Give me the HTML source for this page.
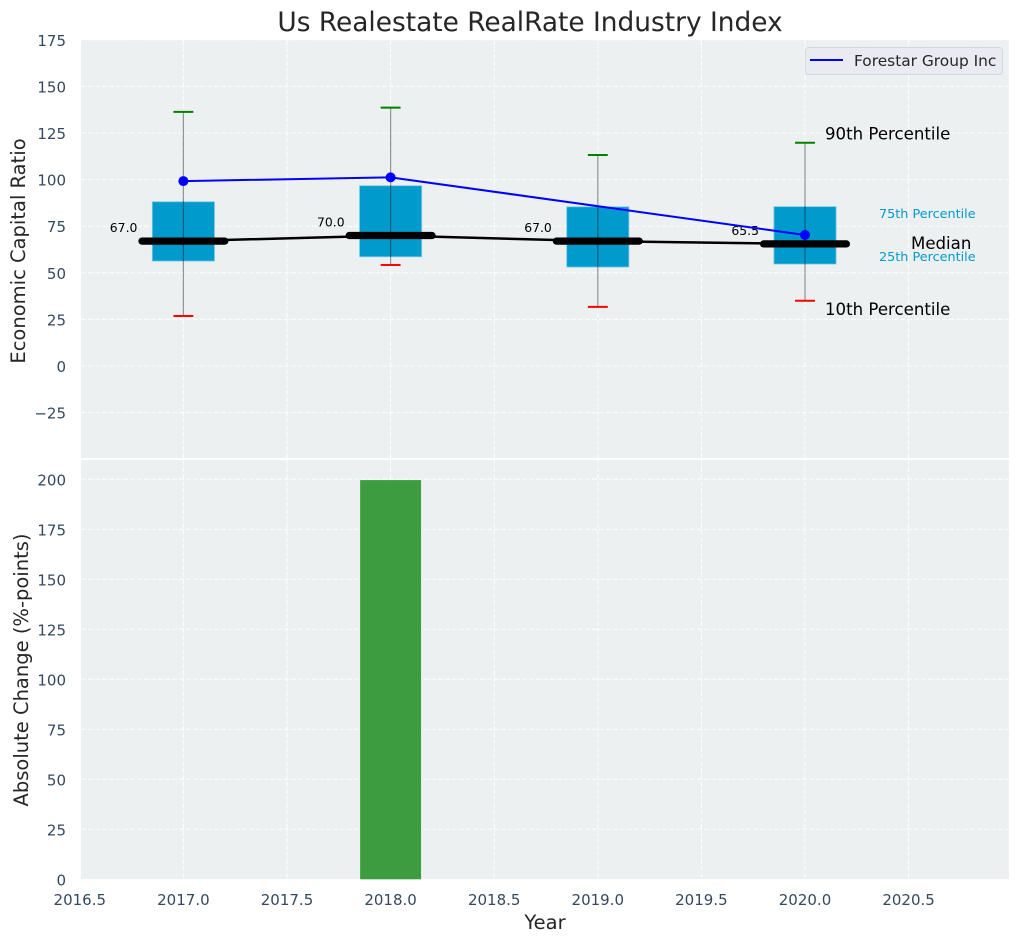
<!DOCTYPE html>
<html>
<head>
<meta charset="utf-8">
<style>
html,body{margin:0;padding:0;background:#fff;}
svg{display:block;font-family:"DejaVu Sans","Liberation Sans",sans-serif;}
</style>
</head>
<body>
<svg id="chart" width="1019" height="942" viewBox="0 0 1019 942" xmlns="http://www.w3.org/2000/svg">
<rect x="0" y="0" width="1019" height="942" fill="#ffffff"/>
<text x="530" y="31" font-size="26.4" fill="#262626" text-anchor="middle">Us Realestate RealRate Industry Index</text>
<text transform="translate(25,251) rotate(-90)" font-size="19.5" fill="#262626" text-anchor="middle">Economic Capital Ratio</text>
<text transform="translate(28,670) rotate(-90)" font-size="19.5" fill="#262626" text-anchor="middle">Absolute Change (%-points)</text>
<text x="545" y="929" font-size="19.5" fill="#262626" text-anchor="middle">Year</text>
<g id="plot"></g>
</svg>
<script>
var years = [2017, 2018, 2019, 2020];
var p90 = [136.3, 138.6, 113.2, 119.8];
var p75 = [88.1, 96.7, 85.4, 85.5];
var median = [67, 70, 67, 65.5];
var p25 = [56.3, 58.6, 53.1, 54.7];
var p10 = [26.8, 54.2, 31.7, 35];
var company = [99.2, 101.2, null, 70.3];
var changeYears = [2018];
var changeValues = [199.6];
var xTicks = [2016.5, 2017, 2017.5, 2018, 2018.5, 2019, 2019.5, 2020, 2020.5];
var topYTicks = [-25, 0, 25, 50, 75, 100, 125, 150, 175];
var bottomYTicks = [0, 25, 50, 75, 100, 125, 150, 175, 200];
var companyName = 'Forestar Group Inc';

var NS = 'http://www.w3.org/2000/svg';
var plot = document.getElementById('plot');
var LEFT = 81, RIGHT = 1009, TOP1 = 40, BOT1 = 458, TOP2 = 460, BOT2 = 879;
function x(v) { return 183.4 + (v - 2017) * 207.2; }
function yTop(v) { return 366 - v * 1.864; }
function yBot(v) { return 879.3 - v * 2; }
function make(tag, attrs, name, text) {
  var el = document.createElementNS(NS, tag);
  for (var k in attrs) { el.setAttribute(k, attrs[k]); }
  
  
  if (text !== undefined) { el.textContent = text; }
  plot.appendChild(el);
  return el;
}
function minus(v) { return String(v).replace('-', '\u2212'); }

make('rect', {x: LEFT, y: TOP1, width: RIGHT - LEFT, height: BOT1 - TOP1, fill: '#ecf0f1'}, 'top-panel-background');
make('rect', {x: LEFT, y: TOP2, width: RIGHT - LEFT, height: BOT2 - TOP2, fill: '#ecf0f1'}, 'bottom-panel-background');

var gridStyle = {stroke: '#ffffff', 'stroke-width': 1, 'stroke-dasharray': '5 2', opacity: 0.9};
function grid(x1, y1, x2, y2, name) {
  var a = {x1: x1, y1: y1, x2: x2, y2: y2};
  for (var k in gridStyle) { a[k] = gridStyle[k]; }
  make('line', a, name);
}
xTicks.forEach(function (t) {
  var px = x(t);
  if (px >= LEFT) {
    grid(px, TOP1, px, BOT1, 'top-x-gridline');
    grid(px, TOP2, px, BOT2, 'bottom-x-gridline');
  }
  make('text', {x: px, y: 905, 'font-size': 15, fill: '#34495e', 'text-anchor': 'middle'}, 'x-tick-label', t.toFixed(1));
});
topYTicks.forEach(function (t) {
  grid(LEFT, yTop(t), RIGHT, yTop(t), 'top-y-gridline');
  make('text', {x: 66, y: yTop(t) + 6, 'font-size': 15, fill: '#34495e', 'text-anchor': 'end'}, 'top-y-tick-label', minus(t));
});
bottomYTicks.forEach(function (t) {
  if (t > 0) { grid(LEFT, yBot(t), RIGHT, yBot(t), 'bottom-y-gridline'); }
  make('text', {x: 66, y: yBot(t) + 6, 'font-size': 15, fill: '#34495e', 'text-anchor': 'end'}, 'bottom-y-tick-label', String(t));
});

// bottom panel bars
changeYears.forEach(function (yr, i) {
  make('rect', {x: x(yr - 0.147), y: yBot(changeValues[i]), width: x(yr + 0.147) - x(yr - 0.147), height: yBot(0) - yBot(changeValues[i]), fill: '#2e9632', opacity: 0.93}, 'change-bar-' + yr);
});

// boxes, whiskers, caps
years.forEach(function (yr, i) {
  make('rect', {x: x(yr - 0.15), y: yTop(p75[i]), width: x(yr + 0.15) - x(yr - 0.15), height: yTop(p25[i]) - yTop(p75[i]), fill: '#009acd', stroke: '#7cc8e4', 'stroke-width': 0.8}, 'iqr-box-' + yr);
  make('line', {x1: x(yr), y1: yTop(p90[i]), x2: x(yr), y2: yTop(p10[i]), stroke: '#000000', 'stroke-width': 1.2, opacity: 0.4}, 'whisker-' + yr);
  make('line', {x1: x(yr - 0.048), y1: yTop(p90[i]), x2: x(yr + 0.048), y2: yTop(p90[i]), stroke: '#008000', 'stroke-width': 2}, 'p90-cap-' + yr);
  make('line', {x1: x(yr - 0.048), y1: yTop(p10[i]), x2: x(yr + 0.048), y2: yTop(p10[i]), stroke: '#ff0000', 'stroke-width': 2}, 'p10-cap-' + yr);
});

// median trend line and thick median bars
make('polyline', {points: years.map(function (yr, i) { return x(yr) + ',' + yTop(median[i]); }).join(' '), fill: 'none', stroke: '#000000', 'stroke-width': 2.5}, 'median-trend-line');
years.forEach(function (yr, i) {
  make('line', {x1: x(yr - 0.2), y1: yTop(median[i]), x2: x(yr + 0.2), y2: yTop(median[i]), stroke: '#000000', 'stroke-width': 7.2, 'stroke-linecap': 'round'}, 'median-bar-' + yr);
  make('text', {x: x(yr) - 46, y: yTop(median[i]) - 9, 'font-size': 12.4, fill: '#000000', 'text-anchor': 'end'}, 'median-value-' + yr, median[i].toFixed(1));
});

// company line: the year with no value has no marker and the line bridges it
var companyPts = years.map(function (yr, i) { return company[i] === null ? null : x(yr) + ',' + yTop(company[i]); }).filter(function (p) { return p !== null; });
make('polyline', {points: companyPts.join(' '), fill: 'none', stroke: '#0000ff', 'stroke-width': 2}, 'company-line');
years.forEach(function (yr, i) {
  if (company[i] !== null) {
    make('circle', {cx: x(yr), cy: yTop(company[i]), r: 5, fill: '#0000ff'}, 'company-point-' + yr);
  }
});

// percentile annotations, anchored on the last year
var last = years.length - 1;
var lastX = x(years[last]);
make('text', {x: lastX + 20, y: yTop(p90[last]) - 3.2, 'font-size': 16.6, fill: '#000000'}, 'p90-annotation', '90th Percentile');
make('text', {x: lastX + 20, y: yTop(p10[last]) + 14.4, 'font-size': 16.6, fill: '#000000'}, 'p10-annotation', '10th Percentile');
make('text', {x: lastX + 106, y: yTop(median[last]) + 5.2, 'font-size': 16.6, fill: '#000000'}, 'median-annotation', 'Median');
make('text', {x: lastX + 74, y: yTop(p75[last]) + 11.2, 'font-size': 12.8, fill: '#009acd'}, 'p75-annotation', '75th Percentile');
make('text', {x: lastX + 74, y: yTop(p25[last]) - 2.8, 'font-size': 12.8, fill: '#009acd'}, 'p25-annotation', '25th Percentile');

// legend
make('rect', {x: 805.5, y: 47.5, width: 197, height: 27, rx: 3, fill: '#eaeaf2', stroke: '#d5d8dc', 'stroke-width': 1}, 'legend-box');
make('line', {x1: 810, y1: 60, x2: 843, y2: 60, stroke: '#0000ff', 'stroke-width': 2}, 'legend-line');
make('text', {x: 854, y: 66, 'font-size': 15.4, fill: '#262626'}, 'legend-label', companyName);
</script>
</body>
</html>
